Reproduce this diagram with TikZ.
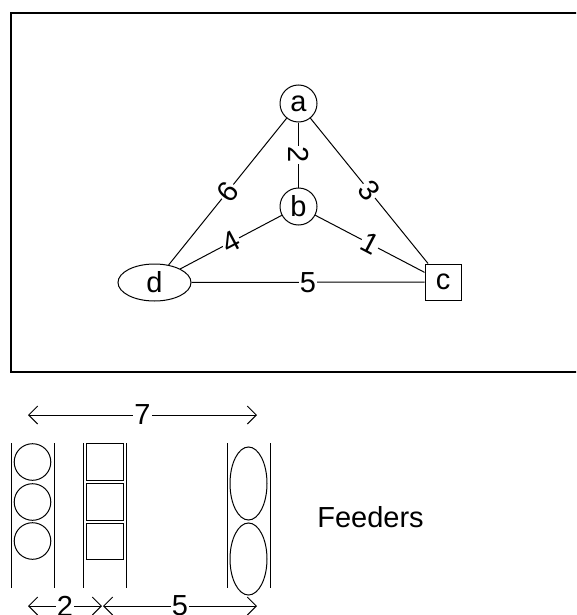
\documentclass[tikz,border=0pt]{standalone}
\usepackage{fontspec}
\setmainfont{Liberation Sans}
\usetikzlibrary{shapes.geometric,arrows.meta}
\begin{document}
\begin{tikzpicture}[x=1pt,y=-1pt, line width=1pt,
  every node/.style={font=\fontsize{29}{34}\selectfont},
  vtx/.style={draw, circle, minimum size=37pt, inner sep=0pt},
  sqr/.style={draw, rectangle, minimum size=36pt, inner sep=0pt},
  ell/.style={draw, ellipse, minimum width=73pt, minimum height=37pt, inner sep=0pt},
  wlabel/.style={fill=white, inner sep=1pt, midway},
  dimarrow/.style={{Straight Barb[length=9pt,width=18pt]}-{Straight Barb[length=9pt,width=18pt]}}
]
\useasboundingbox (0,0) rectangle (576,615);
\clip (0,0) rectangle (576,615);
\draw[line width=1.6pt] (11,13) rectangle (600,372);
\node[vtx] (a) at (298.5,103.5) {a};
\node[vtx] (b) at (298.5,206.5) {b};
\node[sqr] (c) at (443,282) {c};
\node[ell] (d) at (154.5,282.5) {d};
\draw (a) -- node[wlabel, rotate=-90]{2} (b);
\draw (d) -- node[wlabel, sloped]{6} (a);
\draw (a) -- node[wlabel, sloped]{3} (c);
\draw (d) -- node[wlabel, sloped]{4} (b);
\draw (b) -- node[wlabel, sloped]{1} (c);
\draw (d) -- node[wlabel]{5} (c);
% feeders
\foreach \x in {11,54,83,126,227,270} \draw (\x,443) -- (\x,588);
\foreach \y in {462,502,541} \draw (32.5,\y) circle[radius=18.3pt];
\draw (86,443) rectangle (123,480);
\draw (86,483) rectangle (123,520);
\draw (86,523) rectangle (123,559);
\draw (248.5,483.5) ellipse[x radius=18.5pt, y radius=36.5pt];
\draw (248.5,559) ellipse[x radius=18.5pt, y radius=36pt];
\coordinate (t1) at (28,415);
\coordinate (t2) at (257,415);
\coordinate (b1) at (28,606);
\coordinate (b2) at (102,606);
\coordinate (b3) at (103,606);
\coordinate (b4) at (257,606);
\draw[dimarrow] (t1) -- node[wlabel]{7} (t2);
\draw[dimarrow] (b1) -- node[wlabel]{2} (b2);
\draw[dimarrow] (b3) -- node[wlabel]{5} (b4);
\node (feed) at (370.5,517) {Feeders};
\end{tikzpicture}
\end{document}
